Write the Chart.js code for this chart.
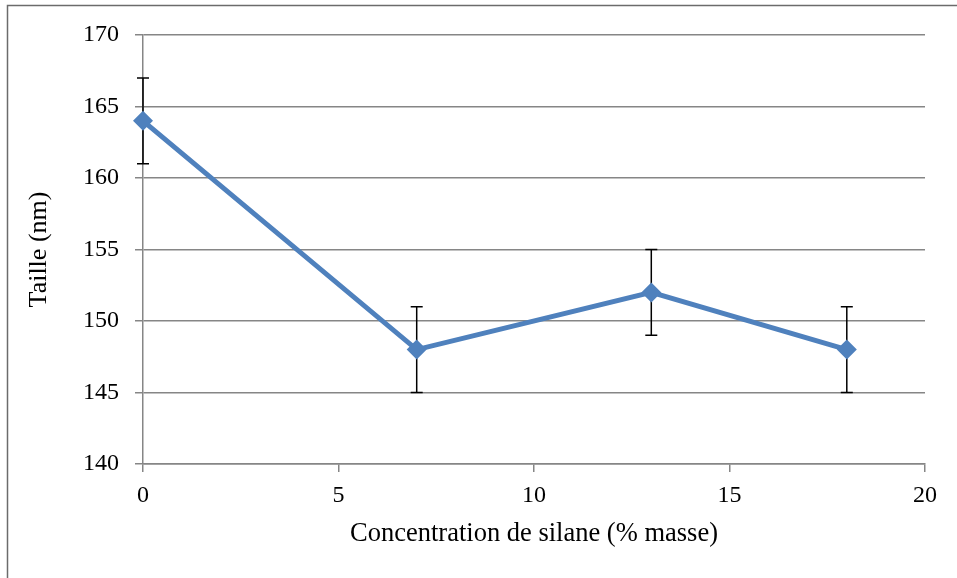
<!DOCTYPE html>
<html>
<head>
<meta charset="utf-8">
<style>
  html, body { margin: 0; padding: 0; background: #ffffff; }
  #wrap { width: 957px; height: 578px; }
</style>
<script src="https://cdn.jsdelivr.net/npm/chart.js@4/dist/chart.umd.min.js"></script>
</head>
<body>
<div id="wrap"><canvas id="c" width="957" height="578"></canvas></div>
<script>
// Silane concentration (% mass) and measured particle size (nm)
const concentration = [0, 7, 13, 18];
const taille = [164, 148, 152, 148];
const erreur = [3, 3, 3, 3];

const xTicks = [0, 5, 10, 15, 20];
const yTicks = [140, 145, 150, 155, 160, 165, 170];

const FONT = "'Liberation Serif', 'Times New Roman', serif";
const GRID = '#868686';

// Vertical error bars with caps, drawn under the series line
const errorBars = {
  id: 'errorBars',
  beforeDatasetsDraw(chart) {
    const { ctx, scales: { x, y } } = chart;
    ctx.save();
    ctx.strokeStyle = '#000000';
    ctx.lineWidth = 1.5;
    concentration.forEach((cx, i) => {
      const px = x.getPixelForValue(cx);
      const top = y.getPixelForValue(taille[i] + erreur[i]);
      const bot = y.getPixelForValue(taille[i] - erreur[i]);
      ctx.beginPath();
      ctx.moveTo(px, top); ctx.lineTo(px, bot);
      ctx.moveTo(px - 6, top); ctx.lineTo(px + 6, top);
      ctx.moveTo(px - 6, bot); ctx.lineTo(px + 6, bot);
      ctx.stroke();
    });
    ctx.restore();
  }
};

// Outer chart frame
const frame = {
  id: 'frame',
  afterDraw(chart) {
    const { ctx } = chart;
    ctx.save();
    ctx.strokeStyle = '#6b6b6b';
    ctx.lineWidth = 1.5;
    ctx.strokeRect(7.5, 5.5, 2000, 2000);
    ctx.restore();
  }
};

new Chart(document.getElementById('c'), {
  type: 'scatter',
  data: {
    datasets: [{
      data: concentration.map((c, i) => ({ x: c, y: taille[i] })),
      showLine: true,
      clip: false,
      borderColor: '#4F81BD',
      backgroundColor: '#4F81BD',
      borderWidth: 5,
      pointStyle: 'rectRot',
      pointRadius: 10,
      pointHoverRadius: 10,
      pointBorderWidth: 0,
      tension: 0
    }]
  },
  options: {
    responsive: false,
    animation: false,
    events: [],
    layout: { padding: { top: 35, right: 32, left: 0, bottom: 0 } },
    plugins: { legend: { display: false }, tooltip: { enabled: false } },
    scales: {
      x: {
        type: 'linear',
        min: 0, max: 20,
        afterBuildTicks(s) { s.ticks = xTicks.map(v => ({ value: v })); },
        afterFit(s) { s.height = 114; },
        grid: { drawOnChartArea: false, drawTicks: true, tickLength: 8, color: GRID, lineWidth: 1.5 },
        border: { display: true, color: GRID, width: 1.5 },
        ticks: { color: '#000', font: { family: FONT, size: 24 }, padding: 9, maxRotation: 0 },
        title: { display: true, text: 'Concentration de silane (% masse)', color: '#000', font: { family: FONT, size: 26.5 }, padding: { top: 0, bottom: 28 } }
      },
      y: {
        type: 'linear',
        min: 140, max: 170,
        afterBuildTicks(s) { s.ticks = yTicks.map(v => ({ value: v })); },
        afterFit(s) { s.width = 143; },
        grid: { drawOnChartArea: true, drawTicks: true, tickLength: 8, color: GRID, lineWidth: 1.5 },
        border: { display: true, color: GRID, width: 1.5 },
        ticks: { color: '#000', font: { family: FONT, size: 24 }, padding: 16 },
        title: { display: true, text: 'Taille (nm)', color: '#000', font: { family: FONT, size: 26 }, padding: { top: 24, bottom: 0 } }
      }
    }
  },
  plugins: [errorBars, frame]
});
</script>
</body>
</html>
